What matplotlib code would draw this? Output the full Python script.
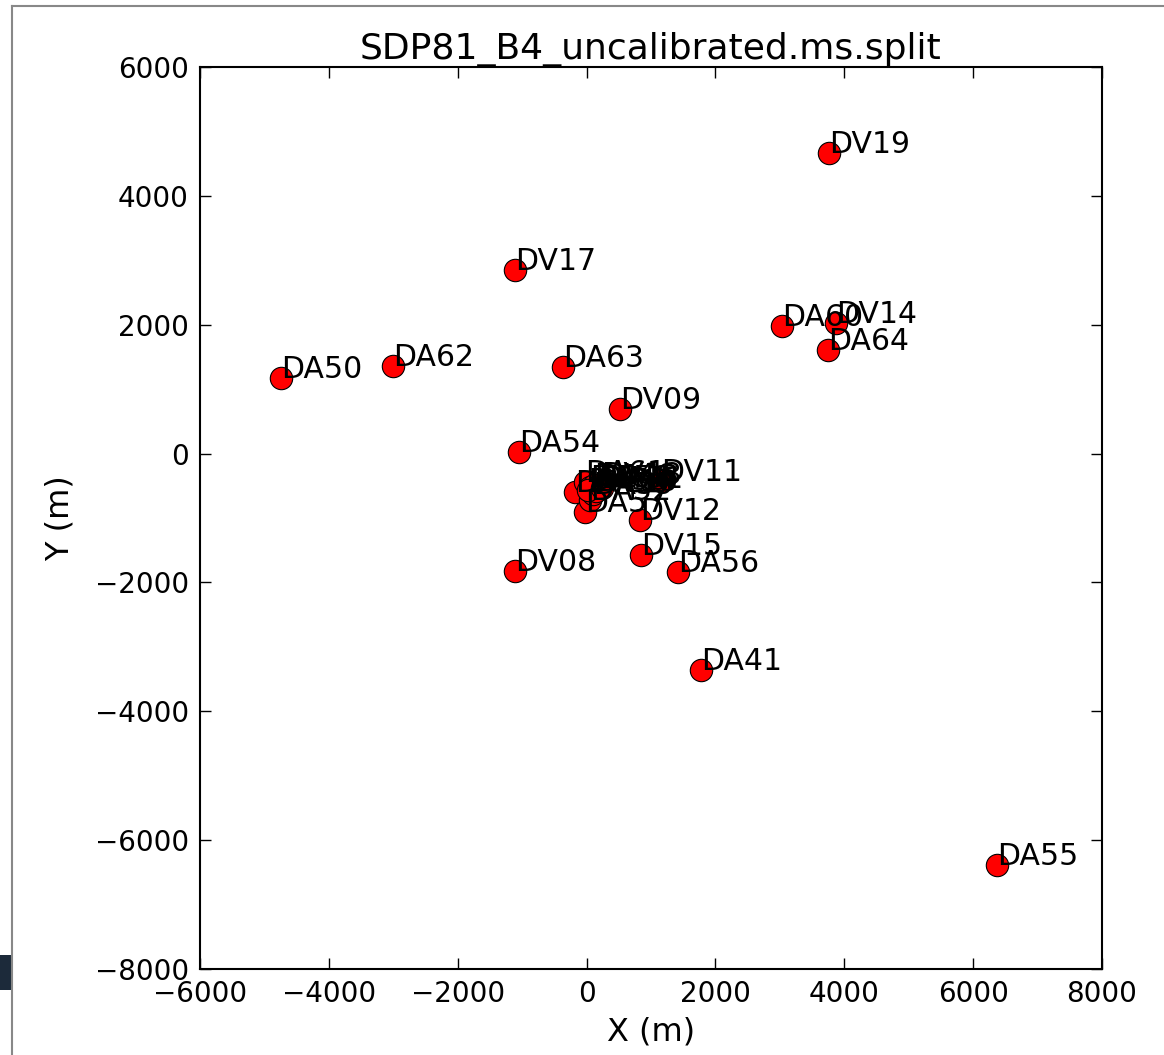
import matplotlib
matplotlib.use("Agg")
import matplotlib.pyplot as plt
from matplotlib.patches import Rectangle
from matplotlib.lines import Line2D

names = ["DV19", "DV17", "DA50", "DA62", "DA63", "DV09", "DA54", "DA60", "DV14",
         "DA64", "DV11", "DV12", "DV15", "DA56", "DV08", "DA41", "DA55",
         "DA49", "DA57", "DA52", "DA61", "DA58", "DA46", "DA48", "DV13",
         "DA59", "DV18", "DA53", "DA51"]
x_m = [3763, -1111, -4743, -3004, -366, 519, -1049, 3033, 3871,
       3747, 1155, 829, 845, 1419, -1111, 1776, 6370,
       -180, -24, 53, -24, 60, 120, 180, 220,
       100, 150, 20, 240]
y_m = [4665, 2849, 1173, 1359, 1344, 692, 24, 1980, 2027,
       1608, -426, -1031, -1574, -1838, -1823, -3359, -6386,
       -596, -907, -721, -441, -520, -490, -500, -470,
       -620, -580, -560, -540]

title = "SDP81_B4_uncalibrated.ms.split"
xticks = [-6000, -4000, -2000, 0, 2000, 4000, 6000, 8000]
yticks = [-8000, -6000, -4000, -2000, 0, 2000, 4000, 6000]

plt.rcParams['font.family'] = ['DejaVu Sans']
fig = plt.figure(figsize=(11.64, 10.55), dpi=100)
ax = fig.add_axes([200/1164, 1-969/1055, 902/1164, 902/1055])

ax.scatter(x_m, y_m, s=260, c='red', edgecolors='black', linewidths=0.8, zorder=3)
for n, xv, yv in zip(names, x_m, y_m):
    ax.text(xv, yv, n, fontsize=21.5, ha='left', va='baseline', color='black', zorder=4)

ax.set_xlim(-6000, 8000)
ax.set_ylim(-8000, 6000)
ax.set_xticks(xticks)
ax.set_yticks(yticks)
ax.set_xticklabels([str(t).replace('-', '\u2212') for t in xticks])
ax.set_yticklabels([str(t).replace('-', '\u2212') for t in yticks])
ax.tick_params(direction='in', top=True, right=True, length=8, width=1,
               labelsize=20, pad=8)
for s in ax.spines.values():
    s.set_linewidth(1.5)
ax.set_title(title, fontsize=26, pad=6)
ax.set_xlabel("X (m)", fontsize=23, labelpad=6)
ax.set_ylabel("Y (m)", fontsize=23, labelpad=14)

# screenshot frame artifacts
fig.add_artist(Line2D([12/1164, 12/1164], [0, 1-6/1055], transform=fig.transFigure,
                      color='#888888', linewidth=1.5))
fig.add_artist(Line2D([12/1164, 1], [1-6/1055, 1-6/1055], transform=fig.transFigure,
                      color='#888888', linewidth=1.5))
fig.add_artist(Rectangle((0, 1-990/1055), 11/1164, 35/1055, transform=fig.transFigure,
                         facecolor='#1c2a3a', edgecolor='none'))

fig.savefig("out.png", dpi=100)
